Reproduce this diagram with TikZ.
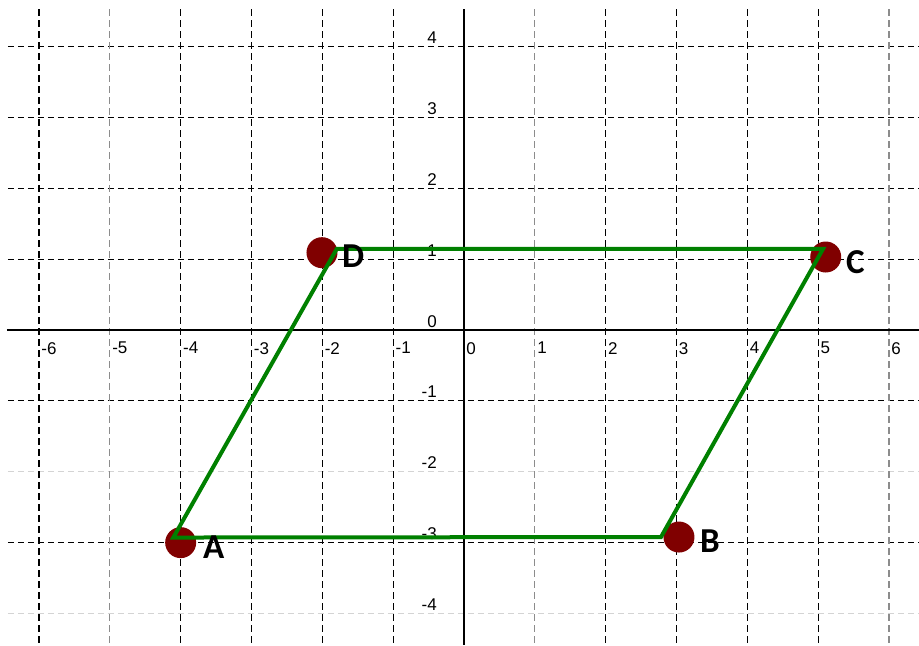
\documentclass[tikz,border=0pt]{standalone}
\usepackage{fontspec}
\setmainfont{Liberation Sans}
\newfontfamily\lblfont{Carlito}
\definecolor{ptred}{HTML}{800000}
\definecolor{polygreen}{HTML}{008000}
\definecolor{gridgray}{HTML}{8C8C8C}
\definecolor{gridlight}{HTML}{D4D4D4}
\begin{document}
\begin{tikzpicture}[x=70.83pt,y=70.875pt,
  hgrid/.style={line width=1.2pt, dash pattern=on 6pt off 4pt},
  vgrid/.style={line width=1.2pt, dash pattern=on 7pt off 4pt},
  axisline/.style={line width=1.4pt, black},
  ticklbl/.style={font=\fontsize{17}{19}\selectfont, inner sep=0pt},
  dot/.style={circle, fill=ptred, minimum size=31pt, inner sep=0pt},
  ptlbl/.style={font=\lblfont\bfseries\fontsize{35}{40}\selectfont, inner sep=0pt, anchor=base west},
  edge/.style={polygreen, line width=4pt, line join=miter}]
\useasboundingbox (-6.5509,-4.4444) rectangle (6.4238,4.6561);
% horizontal grid lines
\foreach \yy in {4,3,2,1,-1,-3}
  \draw[hgrid, black] (-6.438,\yy) -- (6.4238,\yy);
\foreach \yy in {-2,-4}
  \draw[hgrid, gridlight] (-6.438,\yy) -- (6.4238,\yy);
% vertical grid lines
\foreach \xx in {-6,-4,-3,-2,-1,2,3,4,5}
  \draw[vgrid, black] (\xx,4.529) -- (\xx,-4.4444);
\foreach \xx in {-5,1,6}
  \draw[vgrid, gridgray] (\xx,4.529) -- (\xx,-4.4444);
% axes
\draw[axisline] (-6.452,0) -- (6.4238,0);
\draw[axisline] (0,4.529) -- (0,-4.4444);
% x tick labels
\foreach \xx in {-6,-5,-4,-3,-2,-1,0,1,2,3,4,5,6}
  \node[ticklbl, anchor=north west] (xl\xx) at (\xx+0.032,-0.169) {\xx};
% y tick labels
\foreach \yy in {4,3,2,1,0,-1,-2,-3,-4}
  \node[ticklbl, anchor=base east] (yl\yy) at (-0.381,\yy+0.042) {\yy};
% points
\node[dot] (A) at (-4,-3) {};
\node[dot] (B) at (3.035,-2.921) {};
\node[dot] (C) at (5.107,1.030) {};
\node[dot] (D) at (-2.005,1.091) {};
% parallelogram
\coordinate (gA) at (-4.104,-2.928);
\coordinate (gB) at (2.781,-2.921);
\coordinate (gC) at (5.068,1.143);
\coordinate (gD) at (-1.797,1.143);
\draw[edge] (gA) -- (gB) -- (gC) -- (gD) -- cycle;
% point labels
\node[ptlbl] (lA) at (-3.685,-3.217) {A};
\node[ptlbl] (lB) at (3.332,-3.146) {B};
\node[ptlbl] (lC) at (5.393,0.804) {C};
\node[ptlbl] (lD) at (-1.722,0.875) {D};
\end{tikzpicture}
\end{document}
